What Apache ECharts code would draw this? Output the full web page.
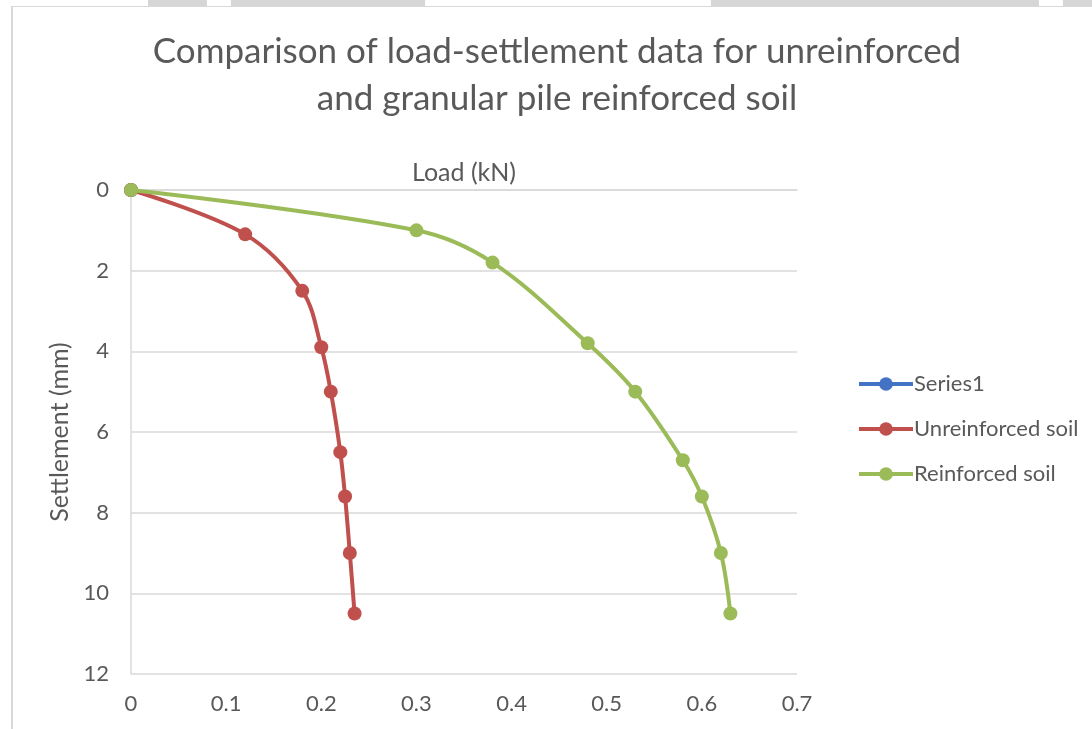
<!DOCTYPE html>
<html>
<head>
<meta charset="utf-8">
<title>Load-settlement comparison</title>
<script src="https://cdn.jsdelivr.net/npm/echarts@6/dist/echarts.min.js"></script>
<style>
  html, body { margin: 0; padding: 0; background: #ffffff; }
  #chart { width: 1092px; height: 729px; }
</style>
</head>
<body>
<div id="chart"></div>
<script>
// Load (kN) vs settlement (mm) readings
const series1Load = [0];
const series1Settlement = [0];

const unreinforcedLoad = [0, 0.12, 0.18, 0.20, 0.21, 0.22, 0.225, 0.23, 0.235];
const unreinforcedSettlement = [0, 1.1, 2.5, 3.9, 5.0, 6.5, 7.6, 9.0, 10.5];

const reinforcedLoad = [0, 0.30, 0.38, 0.48, 0.53, 0.58, 0.60, 0.62, 0.63];
const reinforcedSettlement = [0, 1.0, 1.8, 3.8, 5.0, 6.7, 7.6, 9.0, 10.5];

const seriesNames = ['Series1', 'Unreinforced soil', 'Reinforced soil'];
const seriesColors = ['#4472C4', '#C0504D', '#9BBB59'];

const pairs = (xs, ys) => xs.map((x, i) => [x, ys[i]]);

const FONT = 'Lato, "Open Sans", sans-serif';
const TEXT = '#595959';
const GRID = '#d9d9d9';

const chart = echarts.init(document.getElementById('chart'), null, { renderer: 'canvas' });

function lineSeries(idx, data) {
  return {
    name: seriesNames[idx],
    type: 'line',
    data: data,
    smooth: 0.35,
    symbol: 'circle',
    symbolSize: 14,
    lineStyle: { width: 4, color: seriesColors[idx] },
    itemStyle: { color: seriesColors[idx] },
    emphasis: { disabled: true },
    z: 2 + idx
  };
}

chart.setOption({
  animation: false,
  backgroundColor: '#ffffff',
  title: {
    text: 'Comparison of load-settlement data for unreinforced\nand granular pile reinforced soil',
    left: 552,
    textAlign: 'center',
    top: 23,
    textStyle: {
      fontFamily: FONT,
      fontWeight: 'normal',
      fontSize: 35,
      lineHeight: 47,
      color: TEXT
    }
  },
  graphic: [
    // frame strip along the top edge
    { type: 'rect', shape: { x: 148, y: 0, width: 944, height: 6 }, style: { fill: '#d6d6d6' }, silent: true },
    { type: 'rect', shape: { x: 207, y: 0, width: 24, height: 6 }, style: { fill: '#ffffff' }, silent: true },
    { type: 'rect', shape: { x: 425, y: 0, width: 286, height: 6 }, style: { fill: '#ffffff' }, silent: true },
    { type: 'rect', shape: { x: 1039, y: 0, width: 24, height: 6 }, style: { fill: '#ffffff' }, silent: true },
    { type: 'rect', shape: { x: 11, y: 6, width: 1081, height: 1 }, style: { fill: '#d9d9d9' }, silent: true },
    { type: 'rect', shape: { x: 11, y: 6, width: 2, height: 723 }, style: { fill: '#d9d9d9' }, silent: true }
  ],
  legend: {
    orient: 'vertical',
    left: 852,
    top: 367,
    itemWidth: 54,
    itemHeight: 17,
    itemGap: 21,
    data: seriesNames,
    lineStyle: { width: 4 },
    textStyle: { fontFamily: FONT, fontSize: 22, lineHeight: 24, color: TEXT, padding: [0, 0, 0, -4] }
  },
  grid: { left: 131, right: 295, top: 190, bottom: 55, containLabel: false },
  xAxis: [
    {
      type: 'value',
      position: 'bottom',
      min: 0,
      max: 0.7,
      interval: 0.1,
      axisLine: { show: true, lineStyle: { color: GRID, width: 1.5 } },
      axisTick: { show: false },
      splitLine: { show: false },
      axisLabel: { fontFamily: FONT, fontSize: 22, color: TEXT, margin: 19 }
    },
    {
      type: 'value',
      position: 'top',
      min: 0,
      max: 0.7,
      interval: 0.1,
      name: 'Load (kN)',
      nameLocation: 'middle',
      nameGap: 5,
      nameTextStyle: { fontFamily: FONT, fontSize: 25, color: TEXT },
      axisLine: { show: false },
      axisTick: { show: false },
      axisLabel: { show: false },
      splitLine: { show: false }
    }
  ],
  yAxis: {
    type: 'value',
    inverse: true,
    min: 0,
    max: 12,
    interval: 2,
    name: 'Settlement (mm)',
    nameLocation: 'middle',
    nameGap: 52,
    nameTextStyle: { fontFamily: FONT, fontSize: 25, color: TEXT },
    axisLine: { show: true, lineStyle: { color: GRID, width: 1.5 } },
    axisTick: { show: false },
    splitLine: { show: true, lineStyle: { color: GRID, width: 1.5 } },
    axisLabel: { fontFamily: FONT, fontSize: 22, color: TEXT, margin: 22 }
  },
  series: [
    lineSeries(0, pairs(series1Load, series1Settlement)),
    lineSeries(1, pairs(unreinforcedLoad, unreinforcedSettlement)),
    lineSeries(2, pairs(reinforcedLoad, reinforcedSettlement))
  ]
});
</script>
</body>
</html>
